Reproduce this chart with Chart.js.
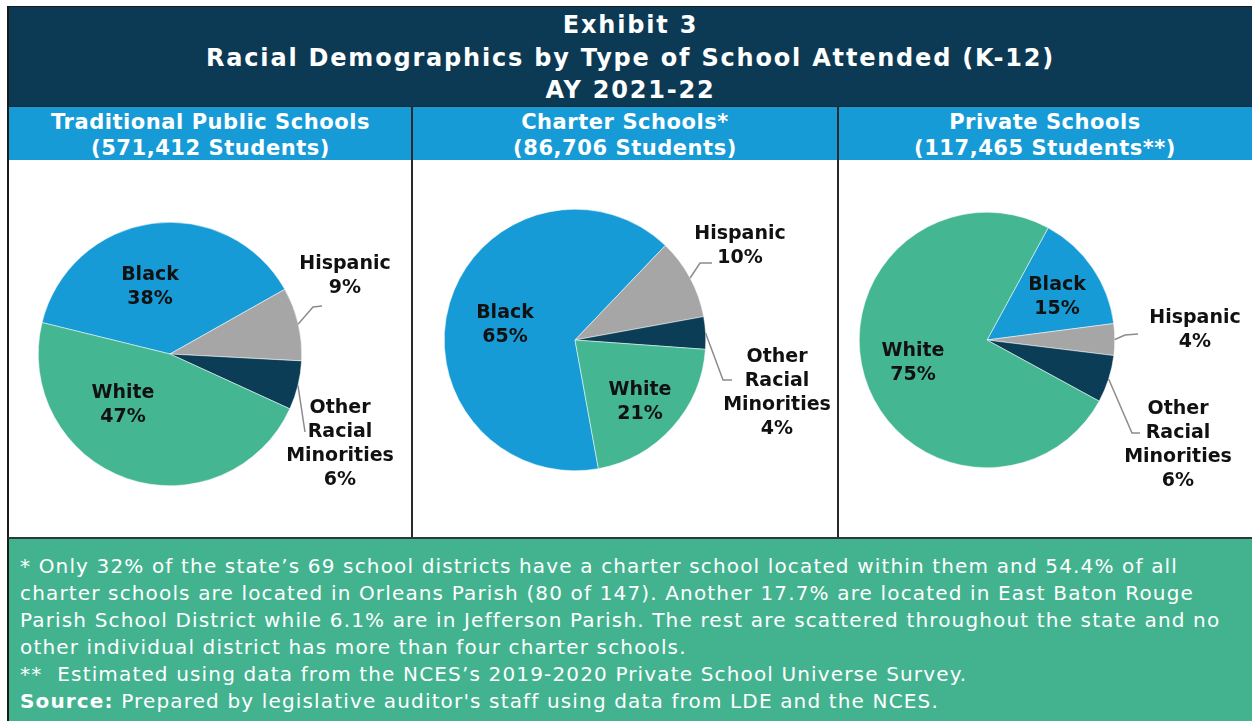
<!DOCTYPE html>
<html>
<head>
<meta charset="utf-8">
<script src="https://cdn.jsdelivr.net/npm/chart.js@4.4.1/dist/chart.umd.min.js"></script>
<style>
    html, body { margin: 0; padding: 0; background: #fff; width: 1252px; height: 721px; overflow: hidden; font-family: "DejaVu Sans", Verdana, sans-serif; }
    .box { position: absolute; }
    .title { left: 7px; top: 6px; width: 1245px; height: 100px; background: #0c3a54; color: #fff; font-weight: bold; font-size: 24px; letter-spacing: 1.8px; line-height: 32.5px; text-align: center; padding-top: 2px; box-sizing: border-box; border-left: 2px solid #1a1a1a; border-top: 1px solid #1a1a1a; }
    .head { top: 106px; height: 54px; background: #179bd7; color: #fff; font-weight: bold; font-size: 21px; letter-spacing: 0.55px; line-height: 26px; text-align: center; padding-top: 2px; box-sizing: border-box; border-top: 1px solid #1a2a33; }
    .panel { top: 160px; height: 378px; background: #fff; }
    .vline { top: 106px; width: 2px; height: 432px; background: #2a2a2a; }
    .foot { left: 7px; top: 537px; width: 1245px; height: 184px; background: #43b38f; color: #fff; font-size: 20px; letter-spacing: 1.15px; line-height: 27px; padding: 14px 0 0 11px; box-sizing: border-box; border-left: 2px solid #1a1a1a; border-top: 2px solid #2a3a3a; white-space: nowrap; }
    canvas { display: block; }
</style>
</head>
<body>

<div class="box title">Exhibit 3<br>Racial Demographics by Type of School Attended (K-12)<br>AY 2021-22</div>

<div class="box head" style="left:7px; width:405px; border-left:2px solid #1a1a1a;">Traditional Public Schools<br>(571,412 Students)</div>
<div class="box head" style="left:412px; width:426px;">Charter Schools*<br>(86,706 Students)</div>
<div class="box head" style="left:838px; width:414px;">Private Schools<br>(117,465 Students**)</div>

<div class="box panel" style="left:7px; width:405px; border-left:2px solid #1a1a1a; box-sizing:border-box;"><canvas id="pie1"></canvas></div>
<div class="box panel" style="left:414px; width:424px;"><canvas id="pie2"></canvas></div>
<div class="box panel" style="left:840px; width:412px;"><canvas id="pie3"></canvas></div>

<div class="box vline" style="left:411px;"></div>
<div class="box vline" style="left:837px;"></div>

<div class="box foot">* Only 32% of the state’s 69 school districts have a charter school located within them and 54.4% of all<br>charter schools are located in Orleans Parish (80 of 147). Another 17.7% are located in East Baton Rouge<br>Parish School District while 6.1% are in Jefferson Parish. The rest are scattered throughout the state and no<br>other individual district has more than four charter schools.<br>**&nbsp; Estimated using data from the NCES’s 2019-2020 Private School Universe Survey.<br><b>Source:</b> Prepared by legislative auditor's staff using data from LDE and the NCES.</div>

<script>
// data
const categories = ['Black', 'Hispanic', 'Other Racial Minorities', 'White'];
const traditionalPct = [38, 9, 6, 47];
const charterPct = [65, 10, 4, 21];
const privatePct = [15, 4, 6, 75];

const sliceColors = ['#179bd7', '#a6a6a6', '#0b3d56', '#45b692'];

// label text lines per category
const labelLines = [['Black'], ['Hispanic'], ['Other', 'Racial', 'Minorities'], ['White']];

// layout per pie: canvas size, pie centre and radius, start angle, label offsets from centre
const pies = [
    {
        id: 'pie1', w: 403, h: 378, cx: 161, cy: 194, r: 132, rotation: -76.2, values: traditionalPct,
        labels: [[-20, -67], [175, -78], [170, 90], [-47, 51]],
        leaders: { 1: [[143, -47], [152, -48]], 2: [[135, 78], [135, 78]] }
    },
    {
        id: 'pie2', w: 424, h: 378, cx: 161, cy: 180, r: 131, rotation: 169.7, values: charterPct,
        labels: [[-70, -15], [165, -94], [202, 53], [65, 62]],
        leaders: { 1: [[125, -77], [137, -77]], 2: [[148, 40], [157, 40]] }
    },
    {
        id: 'pie3', w: 412, h: 378, cx: 147, cy: 180, r: 128, rotation: 28.6, values: privatePct,
        labels: [[70, -43], [208, -10], [191, 105], [-74, 23]],
        leaders: { 1: [[138, -5], [151, -6]], 2: [[145, 93], [153, 93]] }
    }
];

const labelPlugin = {
    id: 'sliceLabels',
    afterDatasetsDraw(chart, args, opts) {
        const ctx = chart.ctx;
        const meta = chart.getDatasetMeta(0);
        const values = chart.data.datasets[0].data;
        ctx.save();
        meta.data.forEach((arc, i) => {
            const cx = arc.x, cy = arc.y;
            // leader lines from slice edge
            const ld = opts.leaders[i];
            if (ld) {
                const mid = (arc.startAngle + arc.endAngle) / 2;
                ctx.strokeStyle = '#8c8c8c';
                ctx.lineWidth = 1.5;
                ctx.beginPath();
                ctx.moveTo(cx + Math.cos(mid) * arc.outerRadius, cy + Math.sin(mid) * arc.outerRadius);
                ctx.lineTo(cx + ld[0][0], cy + ld[0][1]);
                ctx.lineTo(cx + ld[1][0], cy + ld[1][1]);
                ctx.stroke();
            }
            const lines = labelLines[i].concat([values[i] + '%']);
            const [ox, oy] = opts.labels[i];
            const lh = 24;
            ctx.fillStyle = '#111';
            ctx.font = 'bold 19px "DejaVu Sans", Verdana, sans-serif';
            ctx.textAlign = 'center';
            ctx.textBaseline = 'middle';
            const top = cy + oy - (lines.length - 1) * lh / 2;
            lines.forEach((t, k) => ctx.fillText(t, cx + ox, top + k * lh));
        });
        ctx.restore();
    }
};

pies.forEach(p => {
    const cv = document.getElementById(p.id);
    cv.width = p.w; cv.height = p.h;
    cv.style.width = p.w + 'px'; cv.style.height = p.h + 'px';
    new Chart(cv, {
        type: 'pie',
        data: {
            labels: categories,
            datasets: [{
                data: p.values,
                backgroundColor: sliceColors,
                borderColor: '#ffffff',
                borderWidth: 0.5
            }]
        },
        options: {
            responsive: false,
            animation: false,
            rotation: p.rotation,
            layout: {
                padding: {
                    left: p.cx - p.r,
                    right: p.w - p.cx - p.r,
                    top: p.cy - p.r,
                    bottom: p.h - p.cy - p.r
                }
            },
            plugins: {
                legend: { display: false },
                tooltip: { enabled: false },
                sliceLabels: { labels: p.labels, leaders: p.leaders }
            }
        },
        plugins: [labelPlugin]
    });
});
</script>
</body>
</html>
